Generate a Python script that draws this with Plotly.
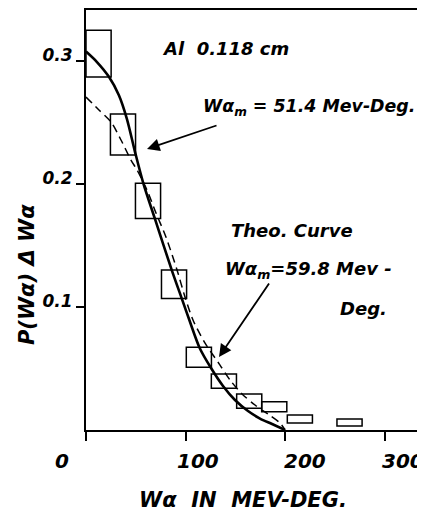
import plotly.graph_objects as go

# ---------------- data ----------------
bin_center = [12.6, 37.1, 62.2, 88.3, 113.2, 138.3, 163.7, 188.8, 214.5, 264.3]
bin_width = [25.2, 25.2, 25.2, 25.2, 25.2, 25.2, 25.2, 25.2, 25.2, 25.2]
p_high = [0.325, 0.257, 0.2006, 0.130, 0.0672, 0.0455, 0.0293, 0.0230, 0.0122, 0.0089]
p_low = [0.287, 0.2236, 0.172, 0.107, 0.051, 0.034, 0.0176, 0.0149, 0.0057, 0.0033]

theo_x = [0, 11, 23, 33, 41, 49, 57.5, 69, 86, 96, 104, 114,
          125.4, 137.4, 149.4, 162.5, 174.5, 186.6, 199.6]
theo_y = [0.3077, 0.2992, 0.2872, 0.2722, 0.2530, 0.2266, 0.2006, 0.1720, 0.1300,
          0.1070, 0.0886, 0.0667, 0.0504, 0.0358, 0.0244, 0.0154, 0.0093, 0.0049, 0.0]

exp_x = [0, 13.0, 25.1, 35.1, 45.1, 51.2, 61.2, 70.2, 80.2, 91.3, 99.3, 107.3,
         119.4, 134.4, 144.4, 156.5, 169.5, 182.5, 194.6, 199.6]
exp_y = [0.2707, 0.2602, 0.2504, 0.2358, 0.2195, 0.2114, 0.1951, 0.1764, 0.1569,
         0.1301, 0.1081, 0.0894, 0.0707, 0.0528, 0.0407, 0.0293, 0.0203, 0.0130,
         0.0057, 0.0]

x_tick_vals = [0, 100, 200, 300]
x_tick_labels = ["0", "100", "200", "300"]
y_tick_vals = [0.1, 0.2, 0.3]
y_tick_labels = ["0.1", "0.2", "0.3"]

# ---------------- layout helpers (positions / styles) ----------------
x_label_shift = [-24, 12, 20, 18]
FONT = "DejaVu Sans"


def bi(size):
    return dict(family=FONT, size=size, color="black", weight="bold", style="italic")


bar_height = [h - l for h, l in zip(p_high, p_low)]

fig = go.Figure()
fig.add_trace(go.Bar(
    x=bin_center, y=bar_height, base=p_low, width=bin_width,
    marker=dict(color="rgba(0,0,0,0)", line=dict(color="black", width=1.5)),
    showlegend=False, hoverinfo="skip"))
fig.add_trace(go.Scatter(
    x=exp_x, y=exp_y, mode="lines",
    line=dict(color="black", width=1.5, dash="8px,5px", shape="spline", smoothing=0.8),
    showlegend=False, hoverinfo="skip"))
fig.add_trace(go.Scatter(
    x=theo_x, y=theo_y, mode="lines",
    line=dict(color="black", width=2.6, shape="spline", smoothing=0.8),
    showlegend=False, hoverinfo="skip"))

annotations = []
# x tick labels
for v, t, s in zip(x_tick_vals, x_tick_labels, x_label_shift):
    annotations.append(dict(x=v, y=-0.0738, xref="x", yref="paper", text=t,
                            showarrow=False, xshift=s, xanchor="center", yanchor="middle",
                            font=bi(20)))
# axis titles
annotations.append(dict(x=0.4617, y=-0.1667, xref="paper", yref="paper",
                        text="Wα  IN  MEV-DEG.", showarrow=False,
                        xanchor="center", yanchor="middle", font=bi(21)))
annotations.append(dict(x=-0.174, y=0.369, xref="paper", yref="paper",
                        text="P(Wα) Δ Wα", showarrow=False, textangle=-90,
                        xanchor="center", yanchor="middle", font=bi(21)))
# inner texts
annotations.append(dict(x=74.2, y=0.3098, xref="x", yref="y", text="Al  0.118 cm",
                        showarrow=False, xanchor="left", yanchor="middle", font=bi(18)))
annotations.append(dict(x=115.3, y=0.2626, xref="x", yref="y",
                        text="Wα<sub>m</sub> = 51.4 Mev-Deg.",
                        showarrow=False, xanchor="left", yanchor="middle", font=bi(17.4)))
annotations.append(dict(x=143.4, y=0.1626, xref="x", yref="y", text="Theo. Curve",
                        showarrow=False, xanchor="left", yanchor="middle", font=bi(18)))
annotations.append(dict(x=137.4, y=0.1301, xref="x", yref="y",
                        text="Wα<sub>m</sub>=59.8 Mev -",
                        showarrow=False, xanchor="left", yanchor="middle", font=bi(18)))
annotations.append(dict(x=252.8, y=0.0992, xref="x", yref="y", text="Deg.",
                        showarrow=False, xanchor="left", yanchor="middle", font=bi(18)))
# arrows
for hx, hy, tx, ty in [(61.2, 0.2285, 132.4, 0.248), (133.4, 0.0593, 184.6, 0.1203)]:
    annotations.append(dict(x=hx, y=hy, ax=tx, ay=ty, xref="x", yref="y",
                            axref="x", ayref="y", text="", showarrow=True,
                            arrowhead=2, arrowsize=1.4, arrowwidth=1.8,
                            arrowcolor="black", standoff=0, startstandoff=0))

# the page body has an 8px default margin: figure is sized/offset to compensate
fig.update_layout(
    width=417, height=507,
    margin=dict(l=78, r=0, t=2, b=85),
    paper_bgcolor="white", plot_bgcolor="white",
    barmode="overlay", showlegend=False,
    annotations=annotations,
    xaxis=dict(range=[0, 340], showgrid=False, zeroline=False,
               showline=True, linecolor="black", linewidth=2, mirror=True,
               tickvals=x_tick_vals, ticks="outside", ticklen=9, tickwidth=2,
               tickcolor="black", showticklabels=False),
    yaxis=dict(range=[0, 0.3415], showgrid=False, zeroline=False,
               showline=True, linecolor="black", linewidth=2, mirror=False,
               tickvals=y_tick_vals, ticktext=y_tick_labels,
               ticks="outside", ticklen=8, tickwidth=1.5, tickcolor="black",
               ticklabelshift=-6, ticklabelstandoff=0,
               tickfont=bi(17)),
)

fig.write_html("out.html")
